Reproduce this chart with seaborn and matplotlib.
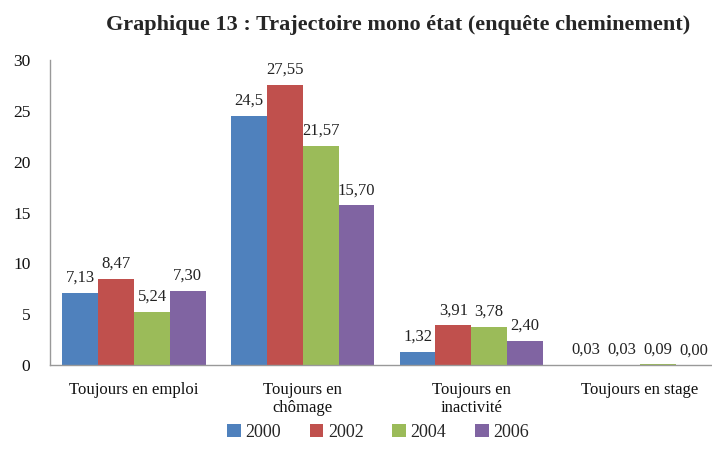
import matplotlib
matplotlib.use("Agg")
import matplotlib.pyplot as plt
import seaborn as sns
import pandas as pd

categories = ["Toujours en emploi", "Toujours en\nchômage", "Toujours en\ninactivité", "Toujours en stage"]
years = ["2000", "2002", "2004", "2006"]
v2000 = [7.13, 24.5, 1.32, 0.03]
v2002 = [8.47, 27.55, 3.91, 0.03]
v2004 = [5.24, 21.57, 3.78, 0.09]
v2006 = [7.30, 15.70, 2.40, 0.00]
labels2000 = ["7,13", "24,5", "1,32", "0,03"]
labels2002 = ["8,47", "27,55", "3,91", "0,03"]
labels2004 = ["5,24", "21,57", "3,78", "0,09"]
labels2006 = ["7,30", "15,70", "2,40", "0,00"]
colors = ["#4F81BD", "#C0504D", "#9BBB59", "#8064A2"]

rows = []
for yr, vals in zip(years, [v2000, v2002, v2004, v2006]):
    for c, v in zip(categories, vals):
        rows.append({"cat": c, "year": yr, "val": v})
df = pd.DataFrame(rows)

sns.set_style("white")
plt.rcParams['font.family'] = ['Liberation Serif', 'DejaVu Serif']

fig = plt.figure(figsize=(7.12, 4.61), dpi=100)
ax = fig.add_axes([0.070, 0.208, 0.947, 0.662])
sns.barplot(data=df, x="cat", y="val", hue="year", palette=colors, ax=ax,
            width=0.85, saturation=1, errorbar=None, legend=True,
            edgecolor="none", linewidth=0)
ax.get_legend().remove()

all_labels = [labels2000, labels2002, labels2004, labels2006]
for cont, labs in zip(ax.containers, all_labels):
    ax.bar_label(cont, labels=labs, padding=5, fontsize=12, color="#222222")

ax.set_ylim(0, 30)
ax.set_yticks([0, 5, 10, 15, 20, 25, 30])
ax.set_xlim(-0.5, 3.5)
ax.set_xlabel("")
ax.set_ylabel("")
ax.tick_params(axis="both", length=0, labelsize=12.5, colors="#111111")
ax.tick_params(axis="y", pad=14)
ax.tick_params(axis="x", pad=12, labelsize=12)
for t in ax.get_xticklabels():
    t.set_linespacing(1.2)
for s in ["top", "right"]:
    ax.spines[s].set_visible(False)
for s in ["left", "bottom"]:
    ax.spines[s].set_color("#999999")
    ax.spines[s].set_linewidth(1)

handles, labs = ax.get_legend_handles_labels()
fig.legend(handles, labs, loc="center", bbox_to_anchor=(0.531, 0.062), ncol=4, frameon=False,
           fontsize=13, handlelength=0.75, handleheight=0.75, handletextpad=0.25,
           columnspacing=1.6)

fig.text(0.969, 0.945, "Graphique 13 : Trajectoire mono état (enquête cheminement)",
         ha="right", va="center", fontsize=16, fontweight="bold",
         family=["Liberation Serif", "DejaVu Serif"])

fig.savefig("out.png", dpi=100)
